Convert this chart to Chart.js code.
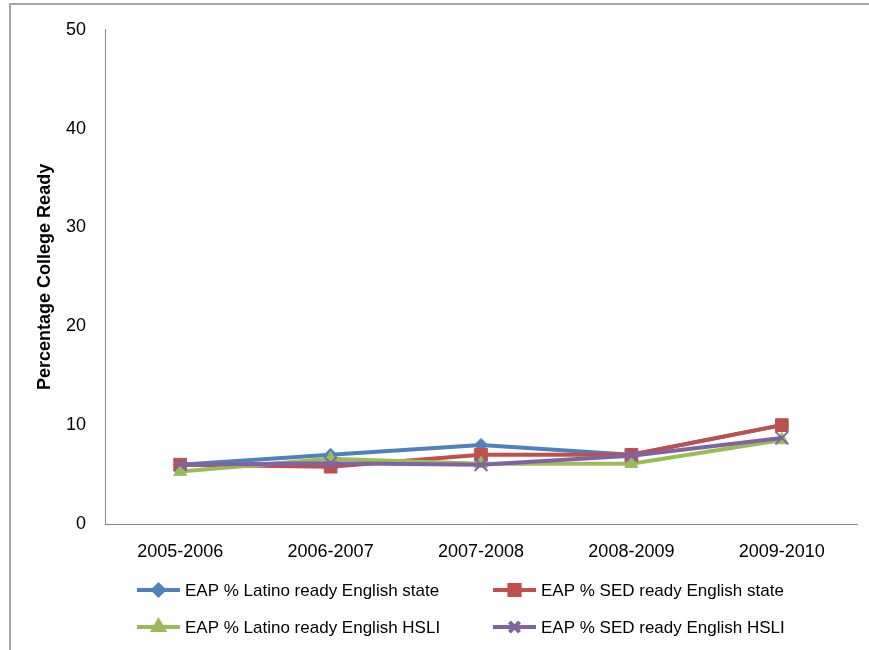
<!DOCTYPE html>
<html>
<head>
<meta charset="utf-8">
<script src="https://cdn.jsdelivr.net/npm/chart.js@4.4.0/dist/chart.umd.min.js"></script>
<style>
  html, body { margin: 0; padding: 0; background: #fff; }
  #wrap { position: relative; width: 869px; height: 650px; overflow: hidden; }
  #frame { position: absolute; left: 9px; top: 3px; right: -5px; bottom: -5px;
           border-top: 2px solid #a6a6a6; border-left: 2px solid #a6a6a6; }
  canvas { position: absolute; left: 0; top: 0; }
</style>
</head>
<body>
<div id="wrap">
  <div id="frame"></div>
  <canvas id="myChart" width="869" height="650"></canvas>
</div>
<script>
// values
var years = ['2005-2006', '2006-2007', '2007-2008', '2008-2009', '2009-2010'];
var latinoState = [6, 7, 8, 7, 10];
var sedState = [6, 5.8, 7, 7, 10];
var latinoHsli = [5.3, 6.6, 6.1, 6.1, 8.5];
var sedHsli = [6, 6.15, 6, 6.9, 8.7];

var seriesNames = [
    'EAP % Latino ready English state',
    'EAP % SED ready English state',
    'EAP % Latino ready English HSLI',
    'EAP % SED ready English HSLI'
];

var fontName = '"Liberation Sans", Arial, sans-serif';

// Excel style legend: two columns, line with marker in the middle
var legendPlugin = {
    id: 'excelLegend',
    afterDraw: function (chart) {
        var ctx = chart.ctx;
        var colX = [137, 493];
        var rowY = [590, 627];
        chart.data.datasets.forEach(function (ds, i) {
            var x = colX[i % 2];
            var y = rowY[Math.floor(i / 2)];
            ctx.save();
            ctx.strokeStyle = ds.borderColor;
            ctx.lineWidth = 4;
            ctx.beginPath();
            ctx.moveTo(x, y);
            ctx.lineTo(x + 43, y);
            ctx.stroke();
            ctx.fillStyle = ds.pointBackgroundColor;
            ctx.strokeStyle = ds.pointBorderColor;
            if (Chart.helpers && Chart.helpers.drawPoint) {
                Chart.helpers.drawPoint(ctx, {
                    pointStyle: ds.pointStyle,
                    radius: ds.pointRadius * 0.8,
                    borderWidth: ds.pointBorderWidth
                }, x + 21.5, y);
            }
            ctx.fillStyle = '#000';
            ctx.font = '17px ' + fontName;
            ctx.textBaseline = 'middle';
            ctx.textAlign = 'left';
            ctx.fillText(ds.label, x + 48, y + 1);
            ctx.restore();
        });
    }
};

var ctx = document.getElementById('myChart').getContext('2d');
var chart = new Chart(ctx, {
    type: 'line',
    data: {
        labels: years,
        datasets: [{
            label: seriesNames[0],
            data: latinoState,
            borderColor: '#4F81BD',
            pointBackgroundColor: '#4F81BD',
            pointBorderColor: '#4F81BD',
            pointStyle: 'rectRot',
            pointRadius: 6.5,
            pointBorderWidth: 1,
            order: 4
        }, {
            label: seriesNames[1],
            data: sedState,
            borderColor: '#C0504D',
            pointBackgroundColor: '#C0504D',
            pointBorderColor: '#C0504D',
            pointStyle: 'rect',
            pointRadius: 9,
            pointBorderWidth: 1,
            order: 3
        }, {
            label: seriesNames[2],
            data: latinoHsli,
            borderColor: '#9BBB59',
            pointBackgroundColor: '#9BBB59',
            pointBorderColor: '#9BBB59',
            pointStyle: 'triangle',
            pointRadius: 7.5,
            pointBorderWidth: 1,
            order: 2
        }, {
            label: seriesNames[3],
            data: sedHsli,
            borderColor: '#8064A2',
            pointBackgroundColor: '#8064A2',
            pointBorderColor: '#8064A2',
            pointStyle: 'crossRot',
            pointRadius: 9,
            pointBorderWidth: 2,
            order: 1
        }]
    },
    options: {
        responsive: false,
        animation: false,
        devicePixelRatio: 1,
        layout: { padding: { top: 26, right: 12, bottom: 88, left: 0 } },
        elements: { line: { borderWidth: 4, tension: 0, fill: false } },
        plugins: {
            legend: { display: false },
            tooltip: { enabled: false }
        },
        scales: {
            x: {
                offset: true,
                grid: { display: false, drawTicks: false },
                border: { display: true, color: '#868686', width: 1 },
                ticks: {
                    color: '#000',
                    padding: 17,
                    maxRotation: 0,
                    font: { family: fontName, size: 18 }
                },
                afterFit: function (scale) { scale.height = 38; }
            },
            y: {
                min: 0,
                max: 50,
                grid: { display: false, drawTicks: false },
                border: { display: true, color: '#868686', width: 1 },
                ticks: {
                    stepSize: 10,
                    color: '#000',
                    padding: 19,
                    font: { family: fontName, size: 18 }
                },
                title: {
                    display: true,
                    text: 'Percentage College Ready',
                    color: '#000',
                    padding: { top: 34, bottom: 0 },
                    font: { family: fontName, size: 18, weight: 'bold' }
                },
                afterFit: function (scale) { scale.width = 105; }
            }
        }
    },
    plugins: [legendPlugin]
});
</script>
</body>
</html>
